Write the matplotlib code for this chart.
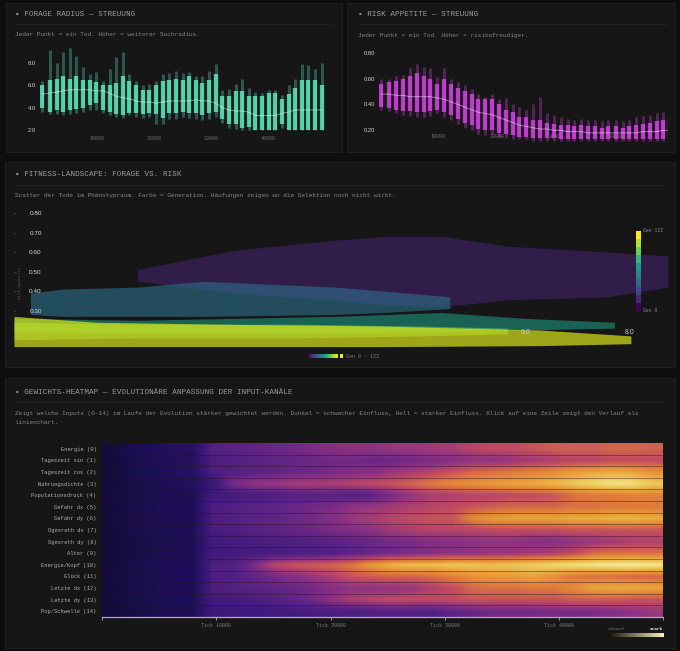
import numpy as np
import matplotlib
matplotlib.use("Agg")
import matplotlib.pyplot as plt
from matplotlib.patches import Rectangle
from matplotlib.colors import LinearSegmentedColormap, BoundaryNorm
from matplotlib.colorbar import ColorbarBase

# ---------------- data ----------------
band_ticks = [400, 1700, 2900, 4100, 5200, 6400, 7600, 8700, 9900, 11000,
              12200, 13400, 14500, 15700, 16800, 18000, 19200, 20300, 21500, 22700,
              23800, 25000, 26100, 27300, 28500, 29600, 30800, 32000, 33100, 34300,
              35400, 36600, 37800, 38900, 40100, 41300, 42400, 43600, 44700, 45900,
              47100, 48200, 49400]

# forage radius per band: outer low, core low, core high, outer high, median
forage_lo_out = [3.6, 3.4, 3.4, 3.3, 3.4, 3.5, 3.6, 3.8, 3.8, 3.5, 3.3, 3.2, 3.1, 3.3, 3.2,
                 3.1, 3.2, 2.5, 2.5, 3.0, 3.0, 3.2, 3.1, 3.0, 2.9, 3.0, 3.2, 2.6, 2.2, 2.1,
                 2.0, 2.0, 2.0, 2.0, 2.0, 2.0, 2.2, 2.0, 2.0, 2.0, 2.0, 2.0, 2.0]
forage_lo_core = [4.0, 3.6, 3.8, 3.6, 3.8, 3.9, 4.0, 4.2, 4.4, 3.8, 3.6, 3.4, 3.3, 3.5, 3.5,
                  3.4, 3.5, 3.4, 3.1, 3.5, 3.5, 3.6, 3.5, 3.5, 3.3, 3.5, 3.6, 3.0, 2.5, 2.5,
                  2.2, 2.3, 2.0, 2.0, 2.0, 2.0, 2.5, 2.0, 2.0, 2.0, 2.0, 2.0, 2.0]
forage_hi_core = [6.0, 6.5, 6.6, 6.8, 6.6, 6.8, 6.5, 6.5, 6.3, 6.0, 6.0, 6.2, 6.8, 6.4, 6.0,
                  5.6, 5.6, 6.0, 6.4, 6.5, 6.6, 6.5, 6.8, 6.5, 6.2, 6.5, 7.0, 5.0, 5.0, 5.5,
                  5.5, 5.0, 5.0, 5.0, 5.3, 5.3, 4.8, 5.2, 5.8, 6.5, 6.5, 6.5, 6.0]
forage_hi_out = [6.4, 9.2, 8.0, 9.0, 9.3, 8.6, 7.6, 7.0, 7.2, 6.4, 7.5, 8.5, 9.0, 7.0, 6.4,
                 6.0, 6.1, 6.4, 7.0, 7.1, 7.3, 7.1, 7.2, 6.8, 6.8, 7.3, 7.9, 5.6, 5.7, 6.1,
                 6.6, 5.8, 5.4, 5.3, 5.6, 5.6, 5.1, 6.0, 6.6, 7.9, 7.8, 7.5, 8.0]
forage_median = [5.2, 5.3, 5.4, 5.5, 5.6, 5.6, 5.6, 5.6, 5.5, 5.5, 5.3, 5.0, 4.9, 4.8, 4.6,
                 4.5, 4.5, 4.4, 4.5, 4.6, 4.6, 4.6, 4.6, 4.7, 4.6, 4.6, 4.4, 4.0, 3.8, 3.7,
                 3.7, 3.6, 3.3, 3.3, 3.3, 3.3, 3.5, 3.6, 3.8, 3.8, 3.8, 3.8, 3.8]

# risk appetite per band
risk_lo_out = [0.36, 0.35, 0.33, 0.32, 0.31, 0.30, 0.30, 0.31, 0.33, 0.30, 0.28, 0.25, 0.22,
               0.20, 0.17, 0.16, 0.17, 0.15, 0.14, 0.13, 0.13, 0.13, 0.12, 0.12, 0.12, 0.12,
               0.12, 0.12, 0.12, 0.12, 0.12, 0.12, 0.12, 0.12, 0.12, 0.12, 0.12, 0.12, 0.12,
               0.12, 0.12, 0.12, 0.12]
risk_lo_core = [0.38, 0.37, 0.36, 0.35, 0.35, 0.34, 0.34, 0.35, 0.36, 0.34, 0.32, 0.29, 0.26,
                0.24, 0.21, 0.20, 0.20, 0.18, 0.17, 0.16, 0.15, 0.15, 0.14, 0.14, 0.14, 0.14,
                0.13, 0.13, 0.13, 0.13, 0.13, 0.13, 0.13, 0.13, 0.13, 0.13, 0.13, 0.13, 0.13,
                0.13, 0.13, 0.13, 0.13]
risk_hi_core = [0.56, 0.57, 0.58, 0.60, 0.62, 0.64, 0.62, 0.60, 0.56, 0.60, 0.56, 0.53, 0.50,
                0.48, 0.44, 0.44, 0.44, 0.40, 0.36, 0.34, 0.30, 0.30, 0.28, 0.28, 0.26, 0.25,
                0.24, 0.24, 0.23, 0.24, 0.23, 0.23, 0.22, 0.23, 0.23, 0.22, 0.23, 0.24, 0.25,
                0.26, 0.27, 0.28, 0.30]
risk_hi_out = [0.60, 0.60, 0.62, 0.63, 0.68, 0.71, 0.69, 0.68, 0.61, 0.68, 0.60, 0.57, 0.55,
               0.52, 0.48, 0.46, 0.48, 0.44, 0.45, 0.40, 0.38, 0.36, 0.40, 0.46, 0.33, 0.32,
               0.30, 0.29, 0.28, 0.29, 0.28, 0.28, 0.27, 0.28, 0.28, 0.27, 0.28, 0.30, 0.31,
               0.32, 0.33, 0.34, 0.38]
risk_median = [0.48, 0.48, 0.47, 0.47, 0.46, 0.46, 0.46, 0.46, 0.45, 0.44, 0.42, 0.40, 0.38,
               0.36, 0.34, 0.33, 0.32, 0.30, 0.28, 0.26, 0.24, 0.23, 0.22, 0.21, 0.21, 0.20,
               0.20, 0.19, 0.19, 0.19, 0.18, 0.18, 0.18, 0.18, 0.18, 0.18, 0.18, 0.18, 0.19,
               0.19, 0.19, 0.20, 0.20]

# fitness landscape: clouds per generation group (forage x, risk low/high)
cloud_gen = [12, 45, 70, 95, 115]
cloud_alpha = [0.55, 0.6, 0.55, 0.55, 0.7]
cloud_x = [
    [3.0, 4.2, 5.4, 6.0, 6.7, 7.5, 8.7, 9.45],
    [1.7, 2.1, 3.0, 3.8, 5.4, 6.0, 6.8],
    [1.5, 3.0, 5.4, 6.7, 7.7, 8.8],
    [1.5, 3.0, 5.0, 6.5, 7.5],
    [1.5, 2.5, 4.0, 6.0, 7.9, 9.0],
]
cloud_lo = [
    [0.45, 0.39, 0.355, 0.33, 0.32, 0.355, 0.37, 0.42],
    [0.28, 0.27, 0.27, 0.27, 0.28, 0.29, 0.31],
    [0.19, 0.185, 0.185, 0.19, 0.20, 0.21],
    [0.15, 0.16, 0.16, 0.17, 0.18],
    [0.115, 0.115, 0.115, 0.115, 0.12, 0.13],
]
cloud_hi = [
    [0.51, 0.61, 0.66, 0.68, 0.68, 0.63, 0.60, 0.58],
    [0.39, 0.41, 0.42, 0.45, 0.42, 0.40, 0.37],
    [0.26, 0.25, 0.27, 0.29, 0.26, 0.24],
    [0.24, 0.23, 0.23, 0.22, 0.21],
    [0.27, 0.24, 0.23, 0.22, 0.20, 0.17],
]

# weight heatmap
input_names = ["Energie (0)", "Tageszeit sin (1)", "Tageszeit cos (2)", "Nahrungsdichte (3)",
               "Populationsdruck (4)", "Gefahr dx (5)", "Gefahr dy (6)", "Ogesreth dx (7)",
               "Ogesreth dy (8)", "Alter (9)", "Energie/Kopf (10)", "Glück (11)",
               "Letzte dx (12)", "Letzte dy (13)", "Pop/Schwelle (14)"]
heat_tick_max = 49100
weights = [
    [0.04, 0.10, 0.12, 0.15, 0.17, 0.36, 0.38, 0.40, 0.42, 0.44, 0.46, 0.48, 0.50, 0.50, 0.52, 0.52, 0.54, 0.55, 0.58, 0.60, 0.60, 0.62, 0.64, 0.65, 0.64, 0.66, 0.66, 0.65],
    [0.04, 0.09, 0.11, 0.14, 0.16, 0.34, 0.36, 0.38, 0.40, 0.41, 0.42, 0.43, 0.44, 0.42, 0.42, 0.44, 0.46, 0.48, 0.50, 0.50, 0.52, 0.54, 0.56, 0.58, 0.58, 0.60, 0.60, 0.60],
    [0.04, 0.09, 0.11, 0.14, 0.16, 0.34, 0.36, 0.38, 0.40, 0.42, 0.43, 0.45, 0.47, 0.48, 0.52, 0.55, 0.58, 0.62, 0.66, 0.68, 0.70, 0.72, 0.74, 0.78, 0.80, 0.82, 0.80, 0.76],
    [0.04, 0.08, 0.10, 0.12, 0.15, 0.25, 0.45, 0.50, 0.52, 0.54, 0.55, 0.56, 0.58, 0.60, 0.62, 0.66, 0.70, 0.74, 0.76, 0.78, 0.80, 0.82, 0.84, 0.88, 0.92, 0.95, 0.94, 0.88],
    [0.04, 0.08, 0.10, 0.12, 0.10, 0.30, 0.32, 0.33, 0.35, 0.37, 0.38, 0.38, 0.36, 0.38, 0.46, 0.52, 0.55, 0.56, 0.58, 0.58, 0.60, 0.60, 0.62, 0.68, 0.70, 0.70, 0.72, 0.72],
    [0.04, 0.08, 0.10, 0.12, 0.12, 0.34, 0.36, 0.38, 0.40, 0.42, 0.44, 0.46, 0.50, 0.52, 0.54, 0.56, 0.58, 0.60, 0.62, 0.64, 0.66, 0.66, 0.66, 0.68, 0.68, 0.70, 0.70, 0.70],
    [0.04, 0.08, 0.10, 0.12, 0.12, 0.34, 0.36, 0.38, 0.40, 0.42, 0.44, 0.48, 0.52, 0.55, 0.58, 0.60, 0.62, 0.62, 0.74, 0.78, 0.80, 0.80, 0.80, 0.82, 0.82, 0.84, 0.84, 0.82],
    [0.04, 0.08, 0.10, 0.12, 0.12, 0.33, 0.35, 0.37, 0.39, 0.41, 0.43, 0.45, 0.48, 0.50, 0.54, 0.56, 0.58, 0.58, 0.58, 0.60, 0.60, 0.60, 0.60, 0.62, 0.62, 0.62, 0.62, 0.62],
    [0.04, 0.07, 0.09, 0.11, 0.11, 0.30, 0.32, 0.33, 0.34, 0.35, 0.36, 0.38, 0.40, 0.42, 0.44, 0.46, 0.48, 0.48, 0.50, 0.50, 0.50, 0.48, 0.48, 0.50, 0.52, 0.54, 0.56, 0.56],
    [0.04, 0.07, 0.09, 0.11, 0.11, 0.30, 0.31, 0.32, 0.33, 0.34, 0.35, 0.36, 0.40, 0.42, 0.44, 0.46, 0.48, 0.50, 0.50, 0.52, 0.52, 0.54, 0.56, 0.60, 0.66, 0.68, 0.68, 0.68],
    [0.04, 0.08, 0.10, 0.12, 0.12, 0.34, 0.36, 0.45, 0.58, 0.62, 0.64, 0.66, 0.70, 0.78, 0.84, 0.86, 0.86, 0.88, 0.88, 0.86, 0.88, 0.90, 0.92, 0.94, 0.95, 0.97, 0.98, 0.96],
    [0.04, 0.08, 0.10, 0.12, 0.12, 0.34, 0.36, 0.40, 0.44, 0.48, 0.52, 0.56, 0.62, 0.64, 0.66, 0.66, 0.68, 0.72, 0.76, 0.78, 0.78, 0.80, 0.76, 0.70, 0.68, 0.68, 0.66, 0.66],
    [0.04, 0.08, 0.10, 0.12, 0.12, 0.34, 0.36, 0.38, 0.40, 0.42, 0.44, 0.48, 0.50, 0.50, 0.50, 0.52, 0.56, 0.60, 0.66, 0.68, 0.68, 0.70, 0.70, 0.74, 0.80, 0.82, 0.82, 0.80],
    [0.04, 0.08, 0.10, 0.12, 0.12, 0.30, 0.32, 0.34, 0.36, 0.40, 0.44, 0.50, 0.56, 0.58, 0.60, 0.60, 0.60, 0.60, 0.62, 0.62, 0.62, 0.62, 0.62, 0.64, 0.64, 0.64, 0.62, 0.62],
    [0.04, 0.07, 0.09, 0.10, 0.10, 0.28, 0.29, 0.30, 0.31, 0.32, 0.33, 0.34, 0.34, 0.36, 0.38, 0.36, 0.36, 0.40, 0.42, 0.44, 0.44, 0.44, 0.46, 0.46, 0.46, 0.48, 0.50, 0.52],
]

# ---------------- styling ----------------
W, H = 680, 651
PAGE = "#0e0e0e"
PANEL = "#161616"
MONO = ["Liberation Mono", "DejaVu Sans Mono"]
SANS = ["Liberation Sans", "DejaVu Sans"]
TITLE_C = "#9a9a9a"
SUB_C = "#858585"


def rect(x0, y0, x1, y1):
    # pixel box (top-left origin) -> figure fraction rect
    return [x0 / W, 1 - y1 / H, (x1 - x0) / W, (y1 - y0) / H]


def ftext(x, y, s, **kw):
    fig.text(x / W, 1 - y / H, s, **kw)


fig = plt.figure(figsize=(W / 100, H / 100), dpi=100, facecolor=PAGE)

panels = [(6, 3, 342, 152), (347, 3, 675, 152), (5, 162, 675, 367), (5, 378, 675, 648)]
for x0, y0, x1, y1 in panels:
    fig.patches.append(Rectangle((x0 / W, 1 - y1 / H), (x1 - x0) / W, (y1 - y0) / H,
                                 transform=fig.transFigure, facecolor=PANEL,
                                 edgecolor="#1f1f1f", lw=0.8, zorder=-5))

# separators under the titles
for x0, x1, y in [(15, 332, 24), (357, 667, 24), (15, 665, 185), (15, 665, 402)]:
    fig.add_artist(plt.Line2D([x0 / W, x1 / W], [1 - y / H, 1 - y / H], color="#232323", lw=0.6,
                              zorder=-4))

title_kw = dict(family=MONO, fontsize=5.5, color=TITLE_C, va="center", ha="left")
sub_kw = dict(family=MONO, fontsize=4.4, color=SUB_C, va="center", ha="left")
ftext(15, 15, "▪ FORAGE RADIUS — STREUUNG", **title_kw)
ftext(15, 35, "Jeder Punkt = ein Tod. Höher = weiterer Suchradius.", **sub_kw)
ftext(358, 15, "▪ RISK APPETITE — STREUUNG", **title_kw)
ftext(358, 35, "Jeder Punkt = ein Tod. Höher = risikofreudiger.", **sub_kw)
ftext(15, 175, "▪ FITNESS-LANDSCAPE: FORAGE VS. RISK", **title_kw)
ftext(15, 196, "Scatter der Tode im Phänotypraum. Farbe = Generation. "
               "Häufungen zeigen wo die Selektion noch nicht wirkt.", **sub_kw)
ftext(15, 392, "▪ GEWICHTS-HEATMAP — EVOLUTIONÄRE ANPASSUNG DER INPUT-KANÄLE", **title_kw)
ftext(15, 413, "Zeigt welche Inputs (0–14) im Laufe der Evolution stärker gewichtet werden. "
               "Dunkel = schwacher Einfluss, Hell = starker Einfluss. "
               "Klick auf eine Zeile zeigt den Verlauf als", **sub_kw)
ftext(15, 423, "Linienchart.", **sub_kw)


def strip_axes(ax):
    ax.set_facecolor("none")
    for s in ax.spines.values():
        s.set_visible(False)
    ax.set_axisbelow(True)


def band_panel(ax, lo_out, lo_core, hi_core, hi_out, med, color, xlim, ylim, yticks, fmt, xlab_pad):
    strip_axes(ax)
    ax.vlines(band_ticks, lo_out, hi_out, color=color, lw=2.2, alpha=0.3, zorder=3)
    ax.vlines(band_ticks, lo_core, hi_core, color=color, lw=3.1, alpha=0.8, zorder=3)
    ax.plot(band_ticks, med, color="#ffffff", lw=0.7, alpha=0.45, zorder=4)
    ax.set_xlim(*xlim)
    ax.set_ylim(*ylim)
    ax.set_yticks(yticks)
    ax.set_yticklabels([fmt.format(v) for v in yticks], family=SANS, fontsize=4.2, color="#d0d0d0")
    ax.set_xticks([10000, 20000, 30000, 40000])
    ax.set_xticklabels(["10000", "20000", "30000", "40000"], family=MONO, fontsize=3.6, color="#6e6e6e")
    ax.tick_params(axis="y", length=0, pad=3)
    ax.tick_params(axis="x", length=0, pad=xlab_pad)


ax1 = fig.add_axes(rect(40, 48, 325, 134))
band_panel(ax1, forage_lo_out, forage_lo_core, forage_hi_core, forage_hi_out, forage_median,
           "#62f0c4", (0, 50000), (1.64, 9.34), [2.0, 4.0, 6.0, 8.0], "{:.1f}", 1.5)

ax2 = fig.add_axes(rect(379, 48, 668, 143))
band_panel(ax2, risk_lo_out, risk_lo_core, risk_hi_core, risk_hi_out, risk_median,
           "#de44ee", (0, 49000), (0.102, 0.836), [0.20, 0.40, 0.60, 0.80], "{:.2f}", -6.5)

# ---------------- fitness landscape ----------------
ax3 = fig.add_axes(rect(14, 205, 672, 347))
ax3.set_facecolor("none")
for s in ax3.spines.values():
    s.set_visible(False)
for gen, a, xs, lo, hi in zip(cloud_gen, cloud_alpha, cloud_x, cloud_lo, cloud_hi):
    c = plt.cm.viridis(gen / 122)
    ax3.fill_between(xs, lo, hi, color=c, alpha=a, lw=0, zorder=1)
ax3.set_xlim(1.5, 9.5)
ax3.set_ylim(0.113, 0.841)
ax3.set_yticks([0.30, 0.40, 0.50, 0.60, 0.70, 0.80])
ax3.set_yticklabels(["0.30", "0.40", "0.50", "0.60", "0.70", "0.80"], family=SANS, fontsize=4.6, color="#d8d8d8")
ax3.tick_params(axis="y", direction="in", length=1.5, width=0.5, color="#555555", pad=-20)
ax3.set_xticks([])
ax3.set_ylabel("Risk Appetite", family=MONO, fontsize=3.0, color="#5a5a5a")
ax3.yaxis.set_label_coords(0.012, 0.45)
for lab, xf in [("6.0", 0.777), ("8.0", 0.936)]:
    ax3.text(xf, 0.10, lab, transform=ax3.transAxes, family=SANS, fontsize=5.0,
             color="#cfcfcf", ha="center", va="center", zorder=5)

# discrete generation colorbar
cax = fig.add_axes(rect(636, 231, 641, 311))
ColorbarBase(cax, cmap=plt.cm.viridis, norm=BoundaryNorm(np.linspace(0, 122, 11), 256),
             orientation="vertical")
cax.set_axis_off()
ftext(643, 231, "Gen 122", family=MONO, fontsize=3.4, color="#8a8a8a", va="center")
ftext(643, 311, "Gen 0", family=MONO, fontsize=3.4, color="#8a8a8a", va="center")

# legend below the scatter
lax = fig.add_axes(rect(308, 354, 338, 358))
lax.imshow(np.linspace(0, 1, 64)[None, :], cmap="viridis", aspect="auto")
lax.set_axis_off()
fig.patches.append(Rectangle((340 / W, 1 - 358 / H), 3 / W, 4 / H, transform=fig.transFigure,
                             facecolor="#fde725", lw=0))
ftext(346, 356, "Gen 0 – 122", family=MONO, fontsize=3.6, color="#7a7a7a", va="center")

# ---------------- heatmap ----------------
heat_cmap = LinearSegmentedColormap.from_list("heat", [
    (0.00, "#0e0a2e"), (0.12, "#1e1058"), (0.30, "#3f1a7c"), (0.40, "#5f2486"),
    (0.50, "#8e3283"), (0.60, "#c04a62"), (0.70, "#df7a3c"), (0.80, "#eaa23a"),
    (0.90, "#eed062"), (1.00, "#f5f2b2")])

ax4 = fig.add_axes(rect(102, 443, 663, 617))
ax4.imshow(np.array(weights), cmap=heat_cmap, vmin=0, vmax=1, aspect="auto",
           interpolation="bilinear", extent=[0, heat_tick_max, len(input_names) - 0.5, -0.5])
ax4.hlines(np.arange(0.5, len(input_names) - 0.5), 0, heat_tick_max, color="#2a0f22", lw=0.5, alpha=0.6)
ax4.set_xlim(0, heat_tick_max)
for s in ["top", "right", "left"]:
    ax4.spines[s].set_visible(False)
ax4.spines["bottom"].set_color("#b9a3cf")
ax4.spines["bottom"].set_linewidth(0.9)
ax4.set_yticks(range(len(input_names)))
ax4.set_yticklabels(input_names, family=MONO, fontsize=3.9, color="#b0b0b0")
ax4.tick_params(axis="y", length=0, pad=4)
ax4.set_xticks([0, 10000, 20000, 30000, 40000, heat_tick_max])
ax4.set_xticklabels(["", "Tick 10000", "Tick 20000", "Tick 30000", "Tick 40000", ""],
                    family=MONO, fontsize=3.6, color="#7a7a7a")
ax4.tick_params(axis="x", length=2.5, width=0.6, color="#b9a3cf", pad=2)

# strength legend
sax = fig.add_axes(rect(608, 633, 663, 637))
sax.imshow(np.linspace(0, 1, 64)[None, :], aspect="auto",
           cmap=LinearSegmentedColormap.from_list("s", ["#121208", "#f4f2b4"]))
sax.set_axis_off()
ftext(608, 628.5, "schwach", family=MONO, fontsize=3.0, color="#7a7a7a", va="center")
ftext(663, 628.5, "stark", family=MONO, fontsize=3.2, color="#f0f0f0", va="center", ha="right",
      fontweight="bold")

fig.savefig("out.png", dpi=100, facecolor=PAGE)
